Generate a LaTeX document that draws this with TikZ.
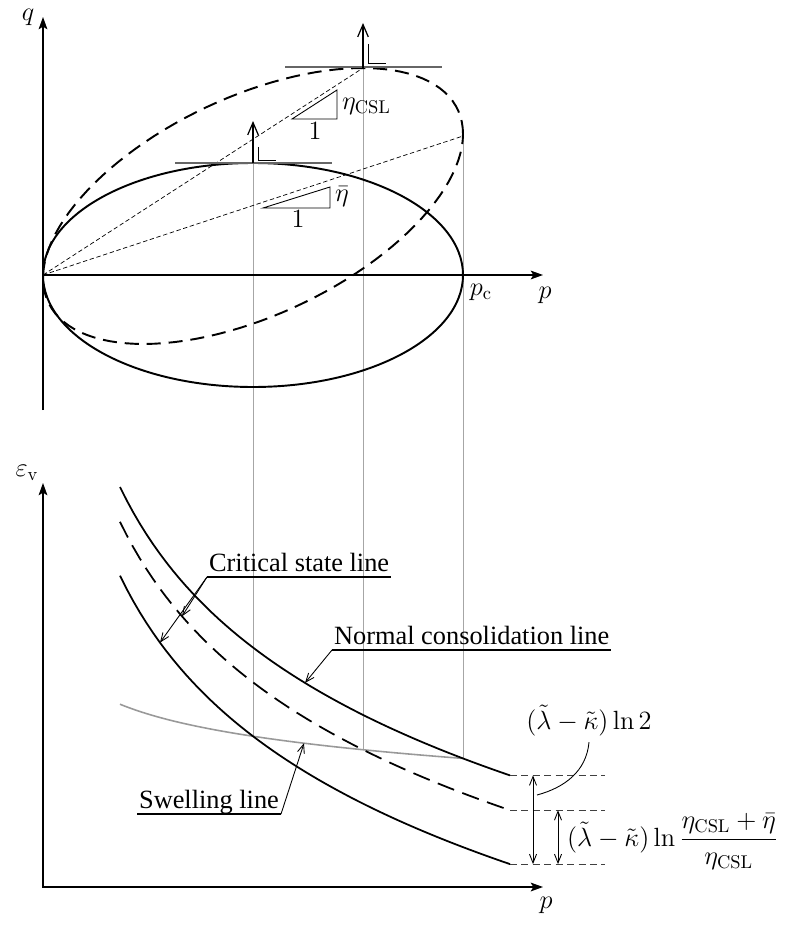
\RequirePackage{fix-cm}
\documentclass[tikz,border=0pt]{standalone}
\usepackage{amsmath}
\usepackage[no-math]{fontspec}
\setmainfont{Liberation Serif}
\usetikzlibrary{arrows.meta,positioning}

% compression / swelling lines (picture units)
\newcommand{\lamt}{160}
\newcommand{\kapt}{32}
\newcommand{\yncl}[1]{(487+\lamt*ln((#1-43)/77))}
\newcommand{\ycsl}[1]{(\yncl{#1}+(\lamt-\kapt)*ln(420/320))}
\newcommand{\ylow}[1]{(\yncl{#1}+(\lamt-\kapt)*ln(2))}
\newcommand{\yswl}[1]{(\yncl{463}+\kapt*ln((#1-43)/420))}

\tikzset{
  barb/.tip={Straight Barb[length=5pt,width=4pt]},
  nbarb/.tip={Straight Barb[length=7pt,width=6pt]},
}

\begin{document}
\begin{tikzpicture}[x=0.02cm, y=-0.02cm, >={Stealth[length=7pt,width=5pt,inset=1.5pt]},
    every node/.style={font=\fontsize{15}{18}\selectfont, inner sep=1pt},
    axis/.style={line width=0.7pt, ->},
    yield/.style={line width=1.1pt},
    yielddash/.style={line width=1.1pt, dash pattern=on 8pt off 4.5pt},
    ray/.style={line width=0.4pt, dash pattern=on 2.5pt off 1.5pt},
    guide/.style={line width=0.5pt, black!35},
    tangent/.style={line width=0.6pt, black!60},
    normal/.style={line width=0.7pt, -nbarb},
    slope/.style={line width=0.5pt},
    curve/.style={line width=1pt},
    swell/.style={line width=0.9pt, black!40},
    ext/.style={line width=0.5pt, black!75, dash pattern=on 4pt off 2.5pt},
    dim/.style={line width=0.5pt, barb-barb},
    leader/.style={line width=0.5pt, -barb},
    tag/.style={inner xsep=1pt, inner ysep=3pt, text depth=0pt, anchor=south west}]
    \useasboundingbox (0,0) rectangle (787,929);

    % Upper plot: yield surfaces in p-q plane
    \coordinate (O) at (43,275);
    \coordinate (topS) at (253,163);
    \coordinate (topD) at (363,68);
    \coordinate (rightD) at (463,136);

    % Guides down to the lower plot
    \draw[guide] (topS) -- (253,{\ylow{253}});
    \draw[guide] (topD) -- (363,{\ycsl{363}});
    \draw[guide] (rightD) -- (463,{\yncl{463}});

    \draw[axis] (43,410) -- (43,17);
    \draw[axis] (O) -- (543,275);
    \node (q) at (28,17) {$q$};
    \node (p1) at (545,295) {$p$};
    \node (pc) at (481,292) {$p_{\mathrm{c}}$};

    \draw[yield] (253,275) ellipse [x radius=210, y radius=112];
    \draw[yielddash] plot[domain=0:360, samples=120, variable=\t]
        ({253+210*cos(\t)}, {206-72*cos(\t)-117.7*sin(\t)});

    \draw[ray] (O) -- (topD);
    \draw[ray] (O) -- (rightD);

    % Tangents and normals at the tops
    \draw[tangent] (175,163) -- (332,163);
    \draw[tangent] (285,67) -- (442,67);
    \draw[normal] (topS) -- (253,121);
    \draw[normal] (topD) -- (363,23);
    \draw[slope] (258,147) |- (276,160);
    \draw[slope] (368,44) |- (386,63);

    % Slope triangles
    \draw[slope] (292,119) -- (337,90) -- (337,119) -- cycle;
    \node (one1) at (315,131) {$1$};
    \node[anchor=west] (etacsl) at (340,106) {$\eta_{\mathrm{CSL}}$};
    \draw[slope] (263,208) -- (330,187) -- (330,208) -- cycle;
    \node (one2) at (298,219) {$1$};
    \node[anchor=west] (etabar) at (333,197) {$\bar{\eta}$};

    % Lower plot: e_v - p plane
    \draw[axis,<->] (43,483) |- (543,887);
    \node (ev) at (27,473) {$\varepsilon_{\mathrm{v}}$};
    \node (p2) at (546,905) {$p$};

    \draw[swell] plot[domain=120:463, samples=60] (\x, {\yswl{\x}});
    \draw[curve] plot[domain=120:510, samples=60] (\x, {\yncl{\x}});
    \draw[curve, dash pattern=on 10pt off 5pt] plot[domain=120:510, samples=60] (\x, {\ycsl{\x}});
    \draw[curve] plot[domain=120:510, samples=60] (\x, {\ylow{\x}});

    \coordinate (nEnd) at (510,{\yncl{510}});
    \coordinate (cEnd) at (510,{\ycsl{510}});
    \coordinate (lEnd) at (510,{\ylow{510}});
    \draw[ext] (nEnd) -- ++(95,0);
    \draw[ext] (cEnd) -- ++(95,0);
    \draw[ext] (lEnd) -- ++(95,0);
    \draw[dim] (533,0 |- nEnd) -- (533,0 |- lEnd);
    \draw[dim] (558,0 |- cEnd) -- (558,0 |- lEnd);

    \node (ln2) at (589,721) {$(\tilde{\lambda}-\tilde{\kappa})\ln 2$};
    \coordinate (lnPt) at (537,795);
    \draw[line width=0.5pt] ([yshift=-2pt]ln2.south) to[out=-95, in=15] (lnPt);
    \node[anchor=base west] (lnfrac) at (565,846)
        {$\displaystyle(\tilde{\lambda}-\tilde{\kappa})\ln\frac{\eta_{\mathrm{CSL}}+\bar{\eta}}{\eta_{\mathrm{CSL}}}$};

    % Labels with leaders
    \coordinate (cslA) at (182,{\ycsl{182}});
    \coordinate (cslB) at (160,{\ylow{160}});
    \node[tag] (csl) at (207,577) {Critical state line};
    \draw[line width=0.6pt] (csl.south west) -- (csl.south east);
    \draw[leader] (csl.south west) -- (cslA);
    \draw[leader] (csl.south west) -- (cslB);

    \coordinate (nclA) at (305,{\yncl{305}});
    \node[tag] (ncl) at (332,650) {Normal consolidation line};
    \draw[line width=0.6pt] (ncl.south west) -- (ncl.south east);
    \draw[leader] (ncl.south west) -- (nclA);

    \coordinate (swlA) at (304,{\yswl{304}});
    \node[tag] (swl) at (137,814) {Swelling line};
    \draw[line width=0.6pt] (swl.south west) -- (swl.south east);
    \draw[leader] (swl.south east) -- (swlA);
\end{tikzpicture}
\end{document}
